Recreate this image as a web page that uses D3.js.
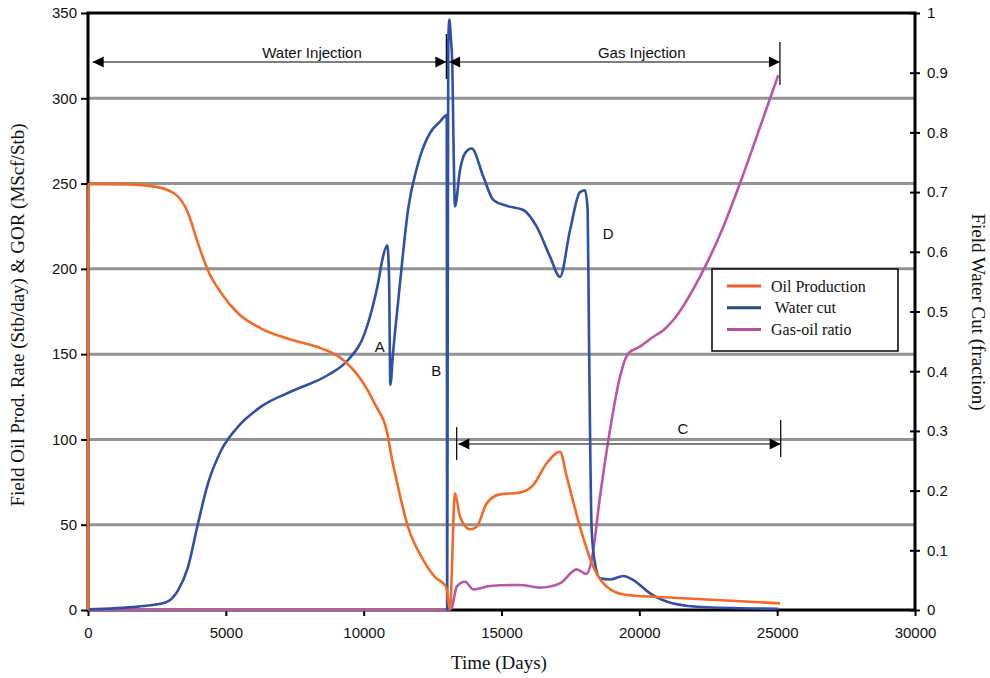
<!DOCTYPE html>
<html>
<head>
<meta charset="utf-8"/>
<script src="https://d3js.org/d3.v7.min.js"></script>
<style>
    body { margin: 0; background: #fff; }
</style>
</head>
<body>
<svg id="chart" width="990" height="678"></svg>
<script>
// --- data (time in days) ---
let oilT = [0, 20, 1500, 2420, 3145, 3630, 3990, 4353, 4837, 5441, 6288, 7255, 8464, 9190, 9915, 10400, 10883, 10944, 11245, 11608, 12092, 12576, 12987, 13130, 13313, 13495, 13857, 14099, 14462, 14946, 15671, 16155, 16639, 17122, 17366, 17848, 18330, 18817, 19542, 21234, 25100];
let oilV = [0, 249.7, 249.5, 248.2, 244, 232.8, 215, 199, 185.7, 174, 165, 159, 153.4, 147.5, 134.8, 121, 101.6, 95.7, 72.3, 48.8, 31.3, 19.5, 13.7, 1, 68.4, 54.7, 47.3, 48.8, 62.5, 67.8, 68.8, 73.3, 86, 92.8, 78.2, 48.8, 25.4, 13.7, 8.8, 7.2, 3.9];

let wcT = [0, 1814, 2781, 3265, 3628, 3990, 4353, 4837, 5441, 6288, 7497, 8706, 9432, 10036, 10520, 10702, 10857, 10920, 10968, 11064, 11245, 11427, 11608, 11910, 12044, 12406, 12769, 13012, 13030, 13050, 13070, 13107, 13160, 13217, 13253, 13313, 13495, 13676, 13918, 14340, 14703, 15188, 15792, 16276, 16759, 17122, 17485, 17848, 18029, 18126, 18175, 18271, 18392, 18573, 18936, 19420, 19783, 20387, 21234, 22443, 25040];
let wcV = [0.001, 0.0056, 0.012, 0.033, 0.072, 0.145, 0.212, 0.268, 0.307, 0.341, 0.3685, 0.3936, 0.4188, 0.4634, 0.547, 0.592, 0.611, 0.56, 0.377, 0.43, 0.514, 0.597, 0.67, 0.737, 0.759, 0.799, 0.818, 0.829, 0.0, 0.5, 0.95, 0.989, 0.96, 0.91, 0.80, 0.676, 0.737, 0.765, 0.773, 0.726, 0.687, 0.677, 0.670, 0.642, 0.592, 0.558, 0.636, 0.70, 0.703, 0.67, 0.452, 0.134, 0.078, 0.053, 0.051, 0.057, 0.05, 0.028, 0.011, 0.0045, 0.002];

let gorT = [0, 13050, 13190, 13300, 13373, 13676, 13978, 14583, 15671, 16397, 17122, 17727, 18089, 18271, 18573, 18936, 19299, 19601, 20024, 20508, 20870, 21234, 22201, 23047, 23652, 24257, 25040];
let gorV = [0, 0, 1, 9, 13.7, 16.6, 12.1, 14.1, 14.7, 13.1, 15.6, 23.8, 21.1, 29.3, 66.4, 105.5, 136.8, 150.5, 154.4, 160.2, 164, 170, 195.4, 224.7, 250.2, 277.5, 313.6];

let xTicks = [0, 5000, 10000, 15000, 20000, 25000, 30000];
let leftTicks = [0, 50, 100, 150, 200, 250, 300, 350];
let rightTicks = [0, 0.1, 0.2, 0.3, 0.4, 0.5, 0.6, 0.7, 0.8, 0.9, 1];
let gridVals = [50, 100, 150, 200, 250, 300];

let seriesNames = ["Oil Production", " Water cut", "Gas-oil ratio"];

// annotations in data units (days, left-axis units)
let waterSpan = [170, 13000];
let gasSpan = [13100, 25100];
let cSpan = [13433, 25128];
let spanLevel = 321.3;
let cLevel = 97.3;
let letters = ["A", "B", "C", "D"];
let letterT = [10582, 12635, 21584, 18874];
let letterV = [153.4, 139.7, 105.5, 219.8];

// --- layout ---
let svg = d3.select("#chart");
let plotL = 88, plotR = 915, plotT = 13, plotB = 610;

let x = d3.scaleLinear().domain([0, 30000]).range([plotL, plotR]);
let yL = d3.scaleLinear().domain([0, 350]).range([plotB, plotT]);
let yR = d3.scaleLinear().domain([0, 1]).range([plotB, plotT]);

let sans = "'Liberation Sans', Arial, sans-serif";
let serif = "'Liberation Serif', 'Times New Roman', serif";

// grid lines
svg.append("g").selectAll("line").data(gridVals).join("line")
    .attr("x1", plotL).attr("x2", plotR)
    .attr("y1", d => yL(d)).attr("y2", d => yL(d))
    .style("stroke", "#939393").style("stroke-width", 3);

// axes
let gx = svg.append("g").attr("transform", "translate(0," + plotB + ")")
    .call(d3.axisBottom(x).tickValues(xTicks).tickFormat(d3.format("d")).tickSize(6).tickPadding(11));
let gl = svg.append("g").attr("transform", "translate(" + plotL + ",0)")
    .call(d3.axisLeft(yL).tickValues(leftTicks).tickSize(7).tickPadding(4));
let gr = svg.append("g").attr("transform", "translate(" + plotR + ",0)")
    .call(d3.axisRight(yR).tickValues(rightTicks).tickFormat(d => d3.format("")(d)).tickSize(5).tickPadding(7));
gr.selectAll(".tick line").attr("x1", -5);

[gx, gl, gr].forEach(g => {
    g.select(".domain").remove();
    g.selectAll(".tick line").style("stroke", "#000").style("stroke-width", 2);
    g.selectAll(".tick text").style("font-family", sans).style("font-size", "15px").style("fill", "#111");
});

// plot frame
svg.append("rect")
    .attr("x", plotL).attr("y", plotT)
    .attr("width", plotR - plotL).attr("height", plotB - plotT)
    .style("fill", "none").style("stroke", "#000").style("stroke-width", 3);

// series
function drawLine(ts, vs, yScale, color) {
    let pts = ts.map((t, i) => [t, vs[i]]);
    let line = d3.line()
        .x(d => x(d[0]))
        .y(d => yScale(d[1]))
        .curve(d3.curveMonotoneX);
    svg.append("path")
        .attr("d", line(pts))
        .style("fill", "none")
        .style("stroke", color)
        .style("stroke-width", 2.6)
        .style("stroke-linejoin", "round");
}
drawLine(gorT, gorV, yL, "#bb55a6");
drawLine(wcT, wcV, yR, "#3050a6");
drawLine(oilT, oilV, yL, "#f26a25");

// arrows
let arrowColor = "#555";
function arrowHead(px, py, dir) {
    // dir = -1 points left, 1 points right
    let len = 11, half = 5.5;
    svg.append("path")
        .attr("d", "M" + px + "," + py + " L" + (px - dir * len) + "," + (py - half) + " L" + (px - dir * len) + "," + (py + half) + " Z")
        .style("fill", "#000");
}
function spanArrow(span, level) {
    let y0 = yL(level);
    svg.append("line")
        .attr("x1", x(span[0])).attr("x2", x(span[1]))
        .attr("y1", y0).attr("y2", y0)
        .style("stroke", arrowColor).style("stroke-width", 1.5);
    arrowHead(x(span[0]), y0, -1);
    arrowHead(x(span[1]), y0, 1);
}
function vTick(t, y1, y2) {
    svg.append("line")
        .attr("x1", x(t)).attr("x2", x(t))
        .attr("y1", y1).attr("y2", y2)
        .style("stroke", "#111").style("stroke-width", 1.3);
}
spanArrow(waterSpan, spanLevel);
spanArrow(gasSpan, spanLevel);
spanArrow(cSpan, cLevel);
vTick(13000, 34, 79);
vTick(gasSpan[1], 42, 85);
vTick(cSpan[0] - 60, yL(cLevel) - 17, yL(cLevel) + 16);
vTick(cSpan[1], yL(cLevel) - 24, yL(cLevel) + 13);

svg.append("text").text("Water Injection")
    .attr("x", x(8126)).attr("y", yL(spanLevel) - 4)
    .attr("text-anchor", "middle")
    .style("font-family", sans).style("font-size", "15px").style("fill", "#111");
svg.append("text").text("Gas Injection")
    .attr("x", x(20086)).attr("y", yL(spanLevel) - 4)
    .attr("text-anchor", "middle")
    .style("font-family", sans).style("font-size", "15px").style("fill", "#111");

svg.append("g").selectAll("text").data(letters).join("text")
    .text(d => d)
    .attr("x", (d, i) => x(letterT[i]))
    .attr("y", (d, i) => yL(letterV[i]))
    .attr("text-anchor", "middle")
    .attr("dominant-baseline", "middle")
    .style("font-family", sans).style("font-size", "15px").style("fill", "#111");

// legend
let legendColors = ["#f05a28", "#2e4a7c", "#b64fa0"];
let lg = svg.append("g");
lg.append("rect")
    .attr("x", 712).attr("y", 269).attr("width", 186).attr("height", 82)
    .style("fill", "#fff").style("stroke", "#000").style("stroke-width", 1.5);
lg.selectAll("line").data(seriesNames).join("line")
    .attr("x1", 727).attr("x2", 761)
    .attr("y1", (d, i) => 286 + i * 21.8).attr("y2", (d, i) => 286 + i * 21.8)
    .style("stroke", (d, i) => legendColors[i]).style("stroke-width", 3);
lg.selectAll("text").data(seriesNames).join("text")
    .text(d => d)
    .attr("x", 771)
    .attr("y", (d, i) => 291.5 + i * 21.8)
    .attr("xml:space", "preserve")
    .style("white-space", "pre")
    .style("font-family", serif).style("font-size", "16px").style("fill", "#111");

// axis titles
svg.append("text").text("Time (Days)")
    .attr("x", 499).attr("y", 669)
    .attr("text-anchor", "middle")
    .style("font-family", serif).style("font-size", "19px").style("fill", "#111");
svg.append("text").text("Field Oil Prod. Rate (Stb/day) & GOR (MScf/Stb)")
    .attr("transform", "translate(24,315) rotate(-90)")
    .attr("text-anchor", "middle")
    .style("font-family", serif).style("font-size", "19px").style("fill", "#111");
svg.append("text").text("Field Water Cut (fraction)")
    .attr("transform", "translate(972,312) rotate(90)")
    .attr("text-anchor", "middle")
    .style("font-family", serif).style("font-size", "19px").style("fill", "#111");
</script>
</body>
</html>
